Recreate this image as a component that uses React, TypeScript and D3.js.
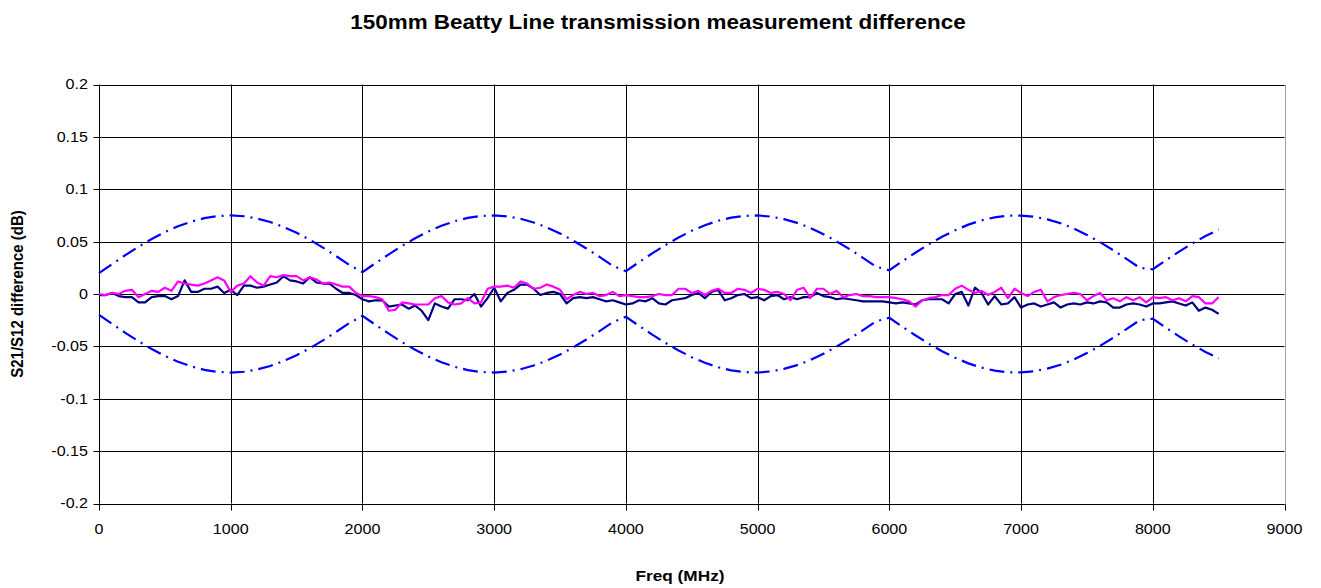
import React from 'react';
import * as d3 from 'd3';

// measured difference, dB, sampled every 50 MHz from 0 to 8500
const navyDiff = [
  -0.001, -0.001, 0.001, -0.002, -0.003, -0.003, -0.008, -0.008, -0.003, -0.002,
  -0.002, -0.005, -0.002, 0.013, 0.002, 0.002, 0.005, 0.005, 0.007, 0.001,
  0.004, -0.001, 0.008, 0.008, 0.006, 0.007, 0.009, 0.011, 0.017, 0.013,
  0.012, 0.010, 0.016, 0.011, 0.010, 0.010, 0.005, 0.001, 0.001, -0.001,
  -0.005, -0.007, -0.006, -0.006, -0.012, -0.011, -0.010, -0.014, -0.011, -0.016,
  -0.025, -0.009, -0.012, -0.014, -0.005, -0.005, -0.006, 0.000, -0.012, -0.004,
  0.006, -0.007, 0.001, 0.004, 0.009, 0.009, 0.005, -0.001, 0.001, 0.002,
  0.000, -0.009, -0.004, -0.003, -0.004, -0.003, -0.005, -0.007, -0.006, -0.008,
  -0.010, -0.009, -0.006, -0.007, -0.004, -0.009, -0.010, -0.006, -0.005, -0.004,
  -0.001, 0.001, -0.004, 0.002, 0.004, -0.006, -0.004, -0.001, 0.000, -0.004,
  -0.003, -0.006, -0.002, -0.001, -0.005, -0.003, -0.005, -0.003, -0.003, 0.001,
  -0.002, -0.003, -0.005, -0.004, -0.005, -0.006, -0.007, -0.007, -0.007, -0.007,
  -0.008, -0.009, -0.008, -0.009, -0.010, -0.006, -0.005, -0.005, -0.005, -0.009,
  0.000, 0.002, -0.011, 0.006, 0.001, -0.010, -0.002, -0.010, -0.009, -0.003,
  -0.013, -0.010, -0.009, -0.012, -0.010, -0.008, -0.013, -0.010, -0.009, -0.010,
  -0.008, -0.009, -0.007, -0.008, -0.013, -0.013, -0.010, -0.009, -0.010, -0.012,
  -0.009, -0.009, -0.008, -0.007, -0.009, -0.011, -0.008, -0.016, -0.013, -0.015,
  -0.019,
];

const magentaDiff = [
  0.000, -0.001, 0.001, 0.000, 0.003, 0.004, -0.003, 0.000, 0.003, 0.002,
  0.006, 0.003, 0.012, 0.010, 0.009, 0.008, 0.010, 0.013, 0.016, 0.013,
  0.002, 0.008, 0.010, 0.017, 0.011, 0.008, 0.017, 0.016, 0.018, 0.017,
  0.017, 0.013, 0.016, 0.014, 0.010, 0.011, 0.009, 0.007, 0.007, 0.001,
  -0.002, -0.002, -0.003, -0.005, -0.016, -0.015, -0.008, -0.009, -0.010, -0.010,
  -0.010, -0.004, -0.002, -0.008, -0.010, -0.009, -0.004, -0.009, -0.008, 0.005,
  0.007, 0.007, 0.008, 0.006, 0.012, 0.010, 0.005, 0.006, 0.009, 0.007,
  0.004, -0.005, -0.001, 0.002, 0.000, 0.001, -0.002, -0.001, 0.002, -0.002,
  -0.001, -0.002, -0.003, -0.003, -0.002, 0.000, -0.001, -0.001, 0.005, 0.005,
  0.001, 0.003, -0.001, 0.003, 0.005, 0.001, 0.001, 0.005, 0.004, 0.001,
  0.005, 0.004, 0.001, 0.002, 0.000, -0.006, 0.004, 0.006, -0.004, 0.005,
  0.005, 0.000, 0.003, -0.003, -0.001, 0.000, -0.002, -0.002, -0.003, -0.003,
  -0.003, -0.004, -0.005, -0.007, -0.012, -0.006, -0.004, -0.003, -0.001, -0.001,
  0.005, 0.008, 0.004, 0.001, 0.003, -0.001, 0.002, 0.006, -0.004, 0.005,
  0.001, -0.002, 0.002, 0.004, -0.007, -0.003, -0.001, 0.000, 0.001, 0.000,
  -0.006, -0.002, 0.001, -0.006, -0.004, -0.007, -0.003, -0.006, -0.003, -0.008,
  -0.003, -0.004, -0.003, -0.006, -0.004, -0.007, -0.002, -0.003, -0.009, -0.009,
  -0.003,
];

// uncertainty limit, dB, every 100 MHz from 0 to 8500
const upperLimit = [
  0.0200, 0.0286, 0.0371, 0.0451, 0.0525, 0.0591, 0.0646, 0.0691, 0.0724, 0.0744,
  0.0750, 0.0742, 0.0721, 0.0687, 0.0641, 0.0584, 0.0518, 0.0443, 0.0362, 0.0278,
  0.0209, 0.0295, 0.0379, 0.0459, 0.0532, 0.0597, 0.0652, 0.0695, 0.0727, 0.0745,
  0.0750, 0.0741, 0.0718, 0.0683, 0.0636, 0.0578, 0.0510, 0.0435, 0.0354, 0.0269,
  0.0218, 0.0304, 0.0388, 0.0467, 0.0539, 0.0603, 0.0657, 0.0699, 0.0729, 0.0746,
  0.0750, 0.0739, 0.0715, 0.0679, 0.0630, 0.0571, 0.0502, 0.0427, 0.0345, 0.0260,
  0.0227, 0.0313, 0.0396, 0.0475, 0.0546, 0.0609, 0.0662, 0.0703, 0.0732, 0.0747,
  0.0749, 0.0737, 0.0712, 0.0675, 0.0625, 0.0564, 0.0495, 0.0418, 0.0336, 0.0251,
  0.0236, 0.0322, 0.0405, 0.0482, 0.0553, 0.0615,
];
const lowerLimit = upperLimit.map(v => -v);

const diffFreqs = navyDiff.map((_, i) => i * 50);
const limitFreqs = upperLimit.map((_, i) => i * 100);

const xTicks = [0, 1000, 2000, 3000, 4000, 5000, 6000, 7000, 8000, 9000];
const yTicks = [-0.2, -0.15, -0.1, -0.05, 0, 0.05, 0.1, 0.15, 0.2];

const W = 1321;
const H = 588;
const plot = { left: 99, right: 1284.5, top: 84.5, bottom: 503.5 };
const font = 'Arial, "Liberation Sans", sans-serif';
// the reference picture is a little wider than tall, so its text is stretched
const SX = 1.15;

export default function App() {
  const x = d3.scaleLinear().domain([0, 9000]).range([plot.left, plot.right]);
  const y = d3.scaleLinear().domain([-0.2, 0.2]).range([plot.bottom, plot.top]);
  const px = (v: number) => Math.round(v) + 0.5;

  const line = (freqs: number[]) =>
    d3.line<number>()
      .x((_, i) => x(freqs[i]))
      .y(d => y(d));

  const limitLine = line(limitFreqs);
  const diffLine = line(diffFreqs);

  return (
    <svg
      width={W}
      height={H}
      style={{ position: 'absolute', left: 0, top: 0, background: '#fff', fontFamily: font }}
    >
      <rect x={0} y={0} width={W} height={H} fill="#fff" />

      {/* plot border */}
      <rect
        x={px(plot.left)}
        y={px(plot.top)}
        width={Math.round(plot.right) - Math.round(plot.left)}
        height={Math.round(plot.bottom) - Math.round(plot.top)}
        fill="none"
        stroke="#a0a0a0"
      />

      {/* grid */}
      {yTicks.map(t => (
        <line key={'gy' + t} x1={plot.left} x2={plot.right} y1={px(y(t))} y2={px(y(t))} stroke="#000" />
      ))}
      {xTicks.slice(1, -1).map(t => (
        <line key={'gx' + t} x1={px(x(t))} x2={px(x(t))} y1={plot.top} y2={plot.bottom} stroke="#000" />
      ))}

      {/* axes */}
      <line x1={px(plot.left)} x2={px(plot.left)} y1={plot.top} y2={plot.bottom} stroke="#000" />
      <line x1={plot.left} x2={plot.right} y1={px(plot.bottom)} y2={px(plot.bottom)} stroke="#000" />
      {yTicks.map(t => (
        <g key={'ty' + t}>
          <line x1={px(plot.left) - 6} x2={px(plot.left)} y1={px(y(t))} y2={px(y(t))} stroke="#000" />
          <text
            transform={`translate(88, ${y(t)}) scale(${SX}, 1)`}
            dy="0.35em"
            textAnchor="end"
            fontSize={14}
            fill="#000"
          >
            {String(t)}
          </text>
        </g>
      ))}
      {xTicks.map(t => (
        <g key={'tx' + t}>
          <line x1={px(x(t))} x2={px(x(t))} y1={px(plot.bottom)} y2={px(plot.bottom) + 6} stroke="#000" />
          <text
            transform={`translate(${x(t)}, 529) scale(${SX}, 1)`}
            dy="0.35em"
            textAnchor="middle"
            fontSize={14}
            fill="#000"
          >
            {String(t)}
          </text>
        </g>
      ))}

      {/* limits */}
      <path d={limitLine(upperLimit) || ''} fill="none" stroke="#0000ff" strokeWidth={2.2} strokeDasharray="15 6 2 6" />
      <path d={limitLine(lowerLimit) || ''} fill="none" stroke="#0000ff" strokeWidth={2.2} strokeDasharray="15 6 2 6" />

      {/* measured differences */}
      <path d={diffLine(navyDiff) || ''} fill="none" stroke="#000080" strokeWidth={2.2} strokeLinejoin="round" />
      <path d={diffLine(magentaDiff) || ''} fill="none" stroke="#ff00ff" strokeWidth={2.2} strokeLinejoin="round" />

      {/* titles */}
      <text
        transform={`translate(658, 29) scale(${SX}, 1)`}
        textAnchor="middle"
        fontSize={19.5}
        fontWeight="bold"
        fill="#000"
      >
        150mm Beatty Line transmission measurement difference
      </text>
      <text
        transform={`translate(680, 581) scale(${SX}, 1)`}
        textAnchor="middle"
        fontSize={15}
        fontWeight="bold"
        fill="#000"
      >
        Freq (MHz)
      </text>
      <text
        transform={`translate(23, ${y(0)}) rotate(-90) scale(1, ${SX})`}
        textAnchor="middle"
        fontSize={15}
        fontWeight="bold"
        fill="#000"
      >
        S21/S12 difference (dB)
      </text>
    </svg>
  );
}
